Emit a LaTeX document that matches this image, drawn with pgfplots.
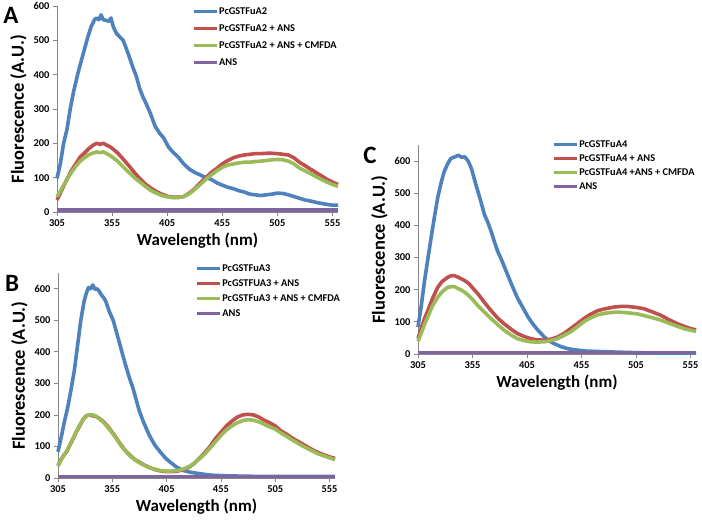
\documentclass[border=0pt]{standalone}
\usepackage{pgfplots}
\pgfplotsset{compat=1.18}
\usepackage{fontspec}
\setmainfont{Carlito}
\definecolor{sBlue}{HTML}{4F81BD}
\definecolor{sRed}{HTML}{C0504D}
\definecolor{sGreen}{HTML}{9BBB59}
\definecolor{sPurple}{HTML}{8064A2}
\definecolor{axGray}{HTML}{868686}

\pgfplotsset{
  spectrum/.style={
    scale only axis, anchor=south west,
    axis lines*=left, axis line style={axGray, line width=0.8bp},
    xmin=305, xmax=560, ymin=0,
    xtick={305,355,...,555}, ytick={0,100,...,600},
    tick align=outside, major tick length=4bp,
    tick style={axGray, line width=0.8bp},
    tick label style={font=\bfseries\fontsize{10.5}{12}\selectfont},
    /pgf/number format/assume math mode=true,
    xlabel={Wavelength (nm)}, ylabel={Fluorescence (A.U.)},
    xlabel style={font=\bfseries\fontsize{17}{20}\selectfont},
    ylabel style={font=\bfseries\fontsize{18.5}{22}\selectfont},
    clip=false,
    legend cell align=left,
    legend style={draw=none, fill=none, anchor=north west, inner sep=0pt,
      font=\bfseries\fontsize{10.4}{12}\selectfont,
      nodes={inner sep=0.5bp, text height=8bp, text depth=2bp}},
    legend image code/.code={\draw[#1] (0bp,0bp) -- (23bp,0bp);},
    every axis plot/.append style={line width=3.6bp, line join=round},
    cycle list={{sBlue},{sRed},{sGreen},{sPurple}},
  }
}

\begin{document}
\begin{tikzpicture}
\path[use as bounding box] (0,0) rectangle (702bp,523bp);

% ---------------- A ----------------
\begin{axis}[spectrum, at={(57bp,311bp)}, width=281bp, height=206bp, ymax=600,
  legend style={at={(0.48,1.0)}, row sep=6bp}]
\addplot coordinates {
(305,98)(308,140)(311,200)(314,240)(317,300)(320,350)(324,404)(327,440)(330,475)
(333,510)(336,540)(339,560)(341,565)(343,560)(345,574)(347,560)(350,558)(352,555)
(354,565)(356,540)(359,520)(362,510)(365,500)(368,475)(371,448)(374,420)(377,395)
(380,360)(383,335)(386,315)(390,285)(394,250)(398,230)(402,215)(406,190)(410,175)
(415,160)(420,140)(425,125)(430,115)(435,108)(440,100)(445,95)(450,85)(455,78)
(460,72)(465,68)(470,62)(475,58)(480,52)(485,50)(490,48)(495,50)(500,52)(505,55)
(510,54)(515,50)(520,45)(525,40)(530,35)(535,32)(540,28)(545,25)(550,22)(555,20)(560,20)};
\addplot coordinates {
(305,35)(308,55)(311,75)(314,95)(318,120)(322,140)(326,160)(330,172)(334,185)
(338,195)(341,200)(344,197)(347,200)(350,195)(353,190)(356,183)(360,172)(364,158)
(368,143)(372,128)(376,112)(380,98)(385,82)(390,70)(395,60)(400,52)(405,46)(410,43)
(415,43)(420,45)(425,55)(430,68)(435,85)(440,100)(445,115)(450,127)(455,140)(460,150)
(465,158)(470,163)(475,166)(480,168)(485,170)(490,170)(495,171)(500,171)(505,170)
(510,168)(515,166)(520,158)(525,145)(530,135)(535,125)(540,115)(545,105)(550,95)
(555,87)(560,80)};
\addplot coordinates {
(305,45)(308,60)(311,78)(314,95)(318,115)(322,133)(326,148)(330,158)(334,167)
(338,172)(341,175)(344,173)(347,175)(350,170)(353,165)(356,158)(360,148)(364,135)
(368,122)(372,110)(376,98)(380,88)(385,75)(390,63)(395,55)(400,48)(405,44)(410,42)
(415,42)(420,45)(425,53)(430,66)(435,80)(440,95)(445,108)(450,120)(455,130)(460,137)
(465,140)(470,143)(475,145)(480,145)(485,147)(490,148)(495,150)(500,152)(505,153)
(510,152)(515,148)(520,140)(525,128)(530,120)(535,112)(540,103)(545,95)(550,87)
(555,80)(560,75)};
\addplot coordinates {(305,5)(560,5)};
\legend{PcGSTFuA2, PcGSTFuA2 + ANS, PcGSTFuA2 + ANS + CMFDA, ANS}
\end{axis}

% ---------------- B ----------------
\begin{axis}[spectrum, at={(58bp,45bp)}, width=277bp, height=205bp, ymax=650,
  legend style={at={(0.495,1.05)}, row sep=4bp}]
\addplot coordinates {
(305,83)(308,130)(311,180)(314,225)(317,280)(320,340)(323,420)(326,500)(329,560)
(331,585)(333,604)(335,600)(337,612)(339,598)(341,600)(343,592)(345,580)(347,572)
(349,560)(352,530)(356,498)(359,460)(362,423)(365,385)(368,349)(371,315)(374,285)
(377,248)(380,211)(384,175)(389,136)(394,105)(399,83)(404,63)(408,51)(414,35)
(420,24)(427,18)(435,14)(443,10)(451,8)(460,7)(472,6)(490,5)(560,5)};
\addplot coordinates {
(305,40)(308,60)(311,75)(313,83)(316,105)(319,125)(322,147)(325,165)(328,185)
(331,197)(334,200)(337,197)(340,195)(343,189)(347,178)(351,163)(356,140)(360,120)
(364,100)(368,83)(372,70)(376,58)(380,50)(385,40)(390,32)(395,26)(400,22)(405,20)
(410,20)(415,22)(420,26)(425,33)(430,45)(435,62)(440,80)(445,100)(450,125)(455,145)
(460,165)(465,180)(470,193)(475,200)(480,202)(485,200)(490,193)(495,183)(500,175)
(505,165)(510,150)(515,140)(520,128)(525,118)(530,108)(535,98)(540,88)(545,80)
(550,73)(555,67)(560,62)};
\addplot coordinates {
(305,38)(308,58)(311,75)(313,85)(316,105)(319,127)(322,148)(325,168)(328,186)
(331,198)(334,200)(337,200)(340,196)(343,188)(347,176)(351,160)(356,138)(360,118)
(364,98)(368,82)(372,68)(376,57)(380,48)(385,39)(390,32)(395,27)(400,23)(405,22)
(410,22)(415,24)(420,28)(425,35)(430,46)(435,60)(440,76)(445,95)(450,115)(455,135)
(460,152)(465,165)(470,175)(475,182)(480,185)(485,183)(490,178)(495,170)(500,162)
(505,155)(510,143)(515,133)(520,122)(525,112)(530,102)(535,93)(540,84)(545,76)
(550,70)(555,64)(560,58)};
\addplot coordinates {(305,5)(560,5)};
\legend{PcGSTFuA3, PcGSTFUA3 + ANS, PcGSTFuA3 + ANS + CMFDA, ANS}
\end{axis}

% ---------------- C ----------------
\begin{axis}[spectrum, at={(418bp,169bp)}, width=278bp, height=209bp, ymax=650,
  legend style={at={(0.482,1.03)}, row sep=3bp}]
\addplot coordinates {
(305,84)(308,150)(311,228)(314,295)(317,361)(320,425)(323,485)(326,530)(329,567)
(332,590)(335,608)(338,612)(342,618)(345,612)(348,613)(351,600)(354,577)(357,540)
(360,505)(363,470)(366,433)(369,410)(372,382)(375,350)(378,320)(382,290)(387,248)
(391,215)(396,176)(401,145)(406,115)(410,95)(415,74)(420,56)(424,43)(430,32)
(436,23)(443,16)(451,12)(460,9)(476,7)(506,4)(530,3)(560,3)};
\addplot coordinates {
(305,48)(308,80)(311,110)(314,135)(318,170)(323,207)(327,225)(332,238)(335,243)
(338,244)(341,240)(344,235)(348,228)(352,218)(356,202)(360,187)(366,160)(372,135)
(378,112)(384,94)(390,78)(396,64)(402,55)(408,48)(414,44)(421,43)(427,46)(433,53)
(439,64)(445,79)(451,94)(457,110)(463,123)(470,135)(477,141)(485,146)(491,148)
(497,148)(505,145)(512,141)(520,131)(528,120)(535,107)(543,94)(550,85)(555,79)(560,75)};
\addplot coordinates {
(305,40)(308,65)(311,92)(314,115)(318,148)(323,176)(327,193)(332,207)(335,209)
(338,210)(341,205)(344,200)(348,192)(352,180)(356,166)(360,150)(366,130)(372,110)
(378,92)(384,74)(390,60)(396,48)(402,42)(408,38)(414,37)(421,38)(427,42)(433,48)
(439,58)(445,69)(451,84)(457,100)(463,112)(470,122)(477,127)(485,130)(491,130)
(497,128)(506,125)(514,118)(521,112)(528,105)(535,96)(543,86)(550,78)(555,74)(560,70)};
\addplot coordinates {(305,5)(560,5)};
\legend{PcGSTFuA4, PcGSTFuA4 + ANS, PcGSTFuA4 +ANS + CMFDA, ANS}
\end{axis}

\node[font=\bfseries\fontsize{25}{28}\selectfont] at (11bp,508bp) {A};
\node[font=\bfseries\fontsize{25}{28}\selectfont] at (12bp,240bp) {B};
\node[font=\bfseries\fontsize{25}{28}\selectfont] at (370bp,368bp) {C};
\end{tikzpicture}
\end{document}
